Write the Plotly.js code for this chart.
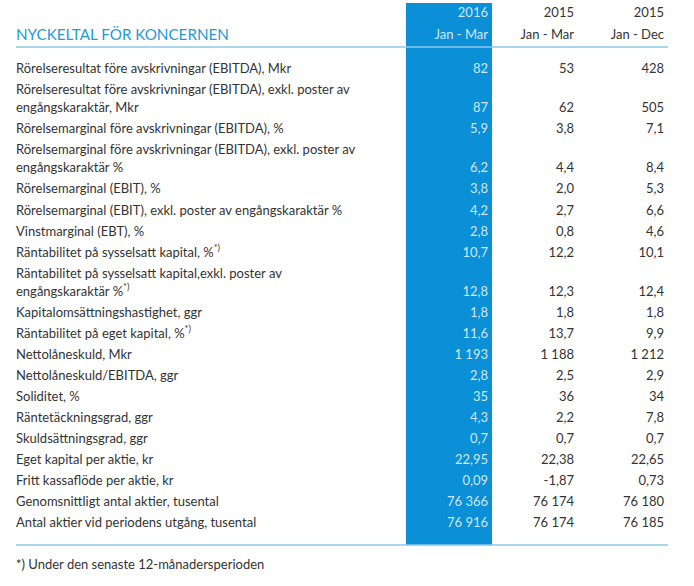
<!DOCTYPE html>
<html>
<head>
<meta charset="utf-8">
<script src="https://cdn.plot.ly/plotly-3.0.1.min.js"></script>
<style>html,body{margin:0;padding:0;background:#fff;}#chart{width:694px;height:586px;}</style>
</head>
<body>
<div id="chart"></div>
<script>
// ---------- data ----------
const tableTitle = 'NYCKELTAL FÖR KONCERNEN';
const headerYears = ['2016', '2015', '2015'];
const headerPeriods = ['Jan - Mar', 'Jan - Mar', 'Jan - Dec'];
const rowLabels = [
  'Rörelseresultat före avskrivningar (EBITDA), Mkr',
  'Rörelseresultat före avskrivningar (EBITDA), exkl. poster av|engångskaraktär, Mkr',
  'Rörelsemarginal före avskrivningar (EBITDA), %',
  'Rörelsemarginal före avskrivningar (EBITDA), exkl. poster av|engångskaraktär %',
  'Rörelsemarginal (EBIT), %',
  'Rörelsemarginal (EBIT), exkl. poster av engångskaraktär %',
  'Vinstmarginal (EBT), %',
  'Räntabilitet på sysselsatt kapital, %<sup>*)</sup>',
  'Räntabilitet på sysselsatt kapital,exkl. poster av|engångskaraktär %<sup>*)</sup>',
  'Kapitalomsättningshastighet, ggr',
  'Räntabilitet på eget kapital, %<sup>*)</sup>',
  'Nettolåneskuld, Mkr',
  'Nettolåneskuld/EBITDA, ggr',
  'Soliditet, %',
  'Räntetäckningsgrad, ggr',
  'Skuldsättningsgrad, ggr',
  'Eget kapital per aktie, kr',
  'Fritt kassaflöde per aktie, kr',
  'Genomsnittligt antal aktier, tusental',
  'Antal aktier vid periodens utgång, tusental'
];
const values2016JanMar = [82, 87, 5.9, 6.2, 3.8, 4.2, 2.8, 10.7, 12.8, 1.8, 11.6, 1193, 2.8, 35, 4.3, 0.7, 22.95, 0.09, 76366, 76916];
const values2015JanMar = [53, 62, 3.8, 4.4, 2.0, 2.7, 0.8, 12.2, 12.3, 1.8, 13.7, 1188, 2.5, 36, 2.2, 0.7, 22.38, -1.87, 76174, 76174];
const values2015JanDec = [428, 505, 7.1, 8.4, 5.3, 6.6, 4.6, 10.1, 12.4, 1.8, 9.9, 1212, 2.9, 34, 7.8, 0.7, 22.65, 0.73, 76180, 76185];
const rowDecimals = [0, 0, 1, 1, 1, 1, 1, 1, 1, 1, 1, 0, 1, 0, 1, 1, 2, 2, 0, 0];
const footnote = '*) Under den senaste 12-månadersperioden';

// ---------- layout constants ----------
const W = 694, H = 586;
const FONT = 'Lato, "Open Sans", sans-serif';
const FS = 13;
const TITLE_FS = 15.2;
const labelX = 16;
const colRight = [488, 574, 664];
const highlightCol = [406, 492];
const ruleX = [16, 668];
const firstRowY = 70, rowStep = 21.05, lineStep = 18;
const headerY = [14, 36];
const ruleTopY = 47, ruleBottomY = 545, highlightTopY = 3, footY = 566;

const C_TEXT = '#333333';
const C_BLUE = '#0b8fd6';
const C_HILITE_TEXT = '#cfe8f7';
const C_TITLE = '#1f9ad8';
const C_RULE = '#8cc8e6';

function fmt(v, d) {
  const neg = v < 0;
  let s = Math.abs(v).toFixed(d);
  let [ip, fp] = s.split('.');
  ip = ip.replace(/\B(?=(\d{3})+(?!\d))/g, ' ');
  return (neg ? '-' : '') + ip + (fp ? ',' + fp : '');
}

// compute y positions of each visual line
const labelLineX = [], labelLineY = [], labelLineText = [];
const rowValueY = [];
let y = firstRowY;
rowLabels.forEach((lab, i) => {
  const parts = lab.split('|');
  parts.forEach((p, k) => {
    if (k > 0) y += lineStep;
    labelLineX.push(labelX);
    labelLineY.push(y);
    labelLineText.push(p);
  });
  rowValueY.push(y);
  y += rowStep;
});

const traces = [];
traces.push({
  type: 'scatter', mode: 'text', x: labelLineX, y: labelLineY, text: labelLineText,
  textposition: 'middle right', textfont: {family: FONT, size: FS, color: C_TEXT},
  hoverinfo: 'skip', showlegend: false, cliponaxis: false
});
const series = [values2016JanMar, values2015JanMar, values2015JanDec];
series.forEach((vals, c) => {
  traces.push({
    type: 'scatter', mode: 'text',
    x: vals.map(() => colRight[c]), y: rowValueY,
    text: vals.map((v, i) => fmt(v, rowDecimals[i])),
    textposition: 'middle left',
    textfont: {family: FONT, size: FS, color: c === 0 ? C_HILITE_TEXT : C_TEXT},
    hoverinfo: 'skip', showlegend: false, cliponaxis: false
  });
  traces.push({
    type: 'scatter', mode: 'text',
    x: [colRight[c], colRight[c]], y: headerY,
    text: [headerYears[c], headerPeriods[c]],
    textposition: 'middle left',
    textfont: {family: FONT, size: FS, color: c === 0 ? C_HILITE_TEXT : C_TEXT},
    hoverinfo: 'skip', showlegend: false, cliponaxis: false
  });
});
traces.push({
  type: 'scatter', mode: 'text', x: [labelX], y: [headerY[1]], text: [tableTitle],
  textposition: 'middle right', textfont: {family: FONT, size: TITLE_FS, color: C_TITLE},
  hoverinfo: 'skip', showlegend: false, cliponaxis: false
});
traces.push({
  type: 'scatter', mode: 'text', x: [labelX], y: [footY], text: [footnote],
  textposition: 'middle right', textfont: {family: FONT, size: FS, color: C_TEXT},
  hoverinfo: 'skip', showlegend: false, cliponaxis: false
});
traces.forEach(t => { t.marker = {size: 0}; });

const layout = {
  width: W, height: H,
  margin: {l: 0, r: 0, t: 0, b: 0, pad: 0},
  paper_bgcolor: '#ffffff', plot_bgcolor: '#ffffff',
  xaxis: {range: [0, W], visible: false, fixedrange: true},
  yaxis: {range: [H, 0], visible: false, fixedrange: true},
  showlegend: false,
  shapes: [
    {type: 'rect', xref: 'x', yref: 'y', x0: highlightCol[0], x1: highlightCol[1], y0: highlightTopY, y1: ruleBottomY,
     fillcolor: C_BLUE, line: {width: 0}, layer: 'below'},
    {type: 'line', xref: 'x', yref: 'y', x0: ruleX[0], x1: ruleX[1], y0: ruleTopY, y1: ruleTopY,
     line: {color: C_RULE, width: 1.5}, layer: 'above'},
    {type: 'line', xref: 'x', yref: 'y', x0: ruleX[0], x1: ruleX[1], y0: ruleBottomY, y1: ruleBottomY,
     line: {color: C_RULE, width: 1.5}, layer: 'above'}
  ]
};

Plotly.newPlot('chart', traces, layout, {staticPlot: true, displayModeBar: false});
</script>
</body>
</html>
